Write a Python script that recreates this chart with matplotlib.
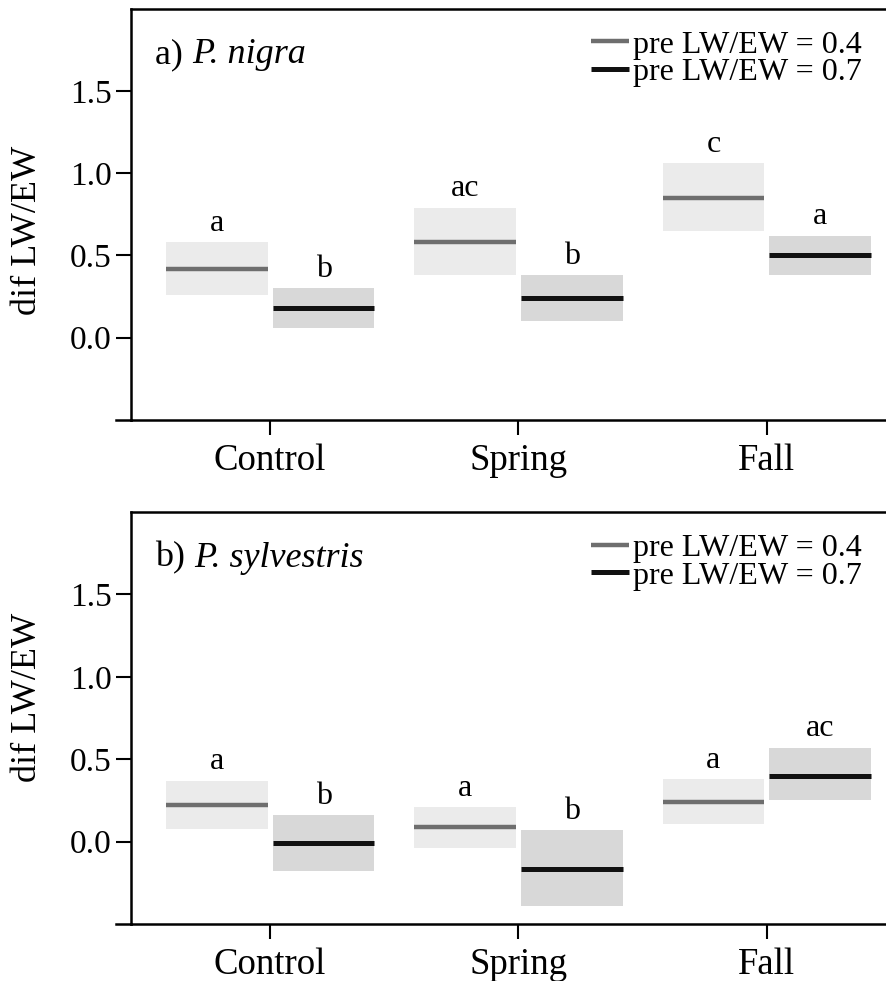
import matplotlib
matplotlib.use("Agg")
import matplotlib.pyplot as plt
import numpy as np

plt.rcParams['font.family'] = ['Liberation Serif', 'DejaVu Serif']

# data
groups = ['Control', 'Spring', 'Fall']

nigra_mean_04 = [0.42, 0.58, 0.85]
nigra_lo_04 = [0.26, 0.38, 0.65]
nigra_hi_04 = [0.58, 0.79, 1.06]
nigra_mean_07 = [0.18, 0.24, 0.505]
nigra_lo_07 = [0.06, 0.10, 0.38]
nigra_hi_07 = [0.30, 0.38, 0.62]
nigra_let_04 = ['a', 'ac', 'c']
nigra_let_07 = ['b', 'b', 'a']

sylv_mean_04 = [0.22, 0.09, 0.24]
sylv_lo_04 = [0.075, -0.04, 0.105]
sylv_hi_04 = [0.37, 0.21, 0.38]
sylv_mean_07 = [-0.01, -0.165, 0.40]
sylv_lo_07 = [-0.18, -0.39, 0.25]
sylv_hi_07 = [0.16, 0.07, 0.57]
sylv_let_04 = ['a', 'a', 'a']
sylv_let_07 = ['b', 'b', 'ac']

legend_labels = ['pre LW/EW = 0.4', 'pre LW/EW = 0.7']
line_cols = ['#6e6e6e', '#111111']
box_cols = ['#ebebeb', '#d8d8d8']

fig = plt.figure(figsize=(8.86, 9.81), dpi=100)


def panel(ax, tag, species, series, ylab_y):
    x = np.arange(1, len(groups) + 1)
    for k, (mean, lo, hi, lets) in enumerate(series):
        if k == 0:
            x0, x1 = x - 0.42, x - 0.01
        else:
            x0, x1 = x + 0.01, x + 0.42
        for i in range(len(groups)):
            ax.fill_between([x0[i], x1[i]], lo[i], hi[i], color=box_cols[k],
                            lw=0, zorder=1)
            ax.plot([x0[i], x1[i]], [mean[i], mean[i]], color=line_cols[k],
                    lw=3.2 if k == 0 else 3.6, solid_capstyle='butt', zorder=2,
                    label=legend_labels[k] if i == 0 else None)
            ax.text((x0[i] + x1[i]) / 2, hi[i] + 0.07, lets[i], ha='center',
                    va='baseline', fontsize=23)
    ax.set_xlim(0.44, 3.48)
    ax.set_ylim(-0.5, 2.0)
    ax.set_xticks(x)
    ax.set_xticklabels(groups, fontsize=26.5)
    ax.set_yticks([0.0, 0.5, 1.0, 1.5])
    ax.set_yticklabels(['0.0', '0.5', '1.0', '1.5'], fontsize=24)
    ax.tick_params(axis='x', length=11, width=1.5, pad=6)
    ax.tick_params(axis='y', length=11, width=1.5, pad=3)
    ax.set_ylabel('dif LW/EW', fontsize=26)
    ax.yaxis.set_label_coords(-0.115, ylab_y)
    ax.spines['right'].set_visible(False)
    for s in ['left', 'top', 'bottom']:
        ax.spines[s].set_linewidth(1.8)
    ax.plot([-0.02, 0], [0, 0], transform=ax.transAxes, color='black',
            lw=1.8, clip_on=False)
    t1 = ax.text(0.032, 0.888, tag + ' ', transform=ax.transAxes, fontsize=26,
                 va='center', ha='left')
    ax.annotate(species, xy=(1, 0.5), xycoords=t1, fontsize=26,
                style='italic', va='center', ha='left')
    ax.legend(loc='upper right', bbox_to_anchor=(0.968, 0.948), frameon=False,
              fontsize=23, handlelength=1.2, handletextpad=0.12,
              labelspacing=-0.05, borderpad=0, borderaxespad=0)


ax1 = fig.add_axes([0.148, 0.572, 0.852, 0.419])
panel(ax1, 'a)', 'P. nigra',
      [(nigra_mean_04, nigra_lo_04, nigra_hi_04, nigra_let_04),
       (nigra_mean_07, nigra_lo_07, nigra_hi_07, nigra_let_07)], 0.46)

ax2 = fig.add_axes([0.148, 0.058, 0.852, 0.42])
panel(ax2, 'b)', 'P. sylvestris',
      [(sylv_mean_04, sylv_lo_04, sylv_hi_04, sylv_let_04),
       (sylv_mean_07, sylv_lo_07, sylv_hi_07, sylv_let_07)], 0.55)

fig.savefig('out.png', dpi=100)
